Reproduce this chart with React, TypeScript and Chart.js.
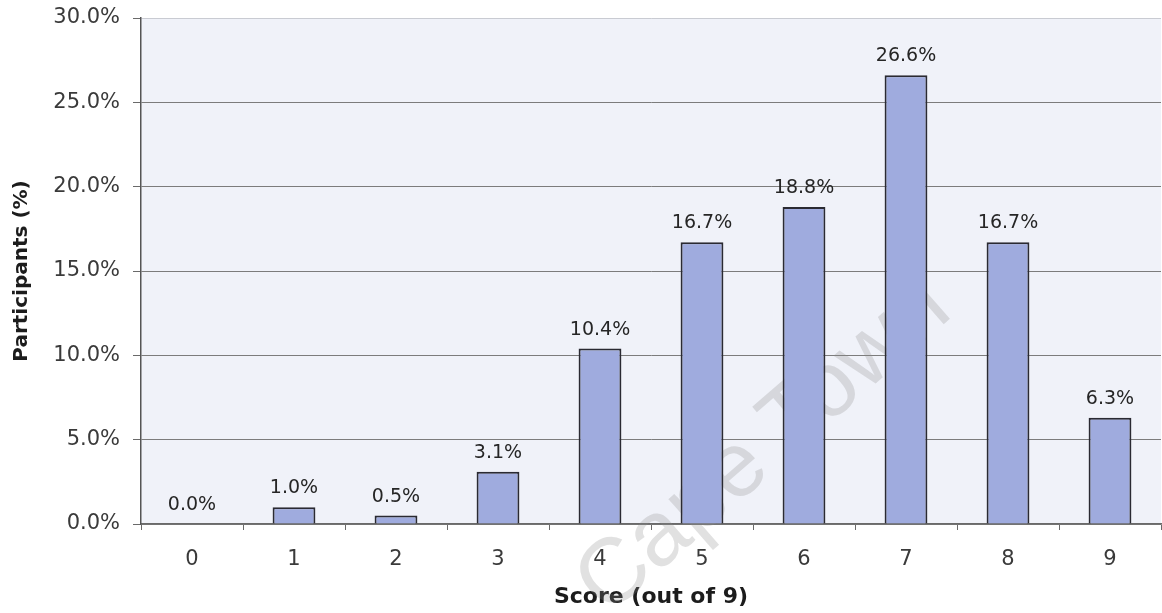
import React, { useEffect, useRef } from "react";
import { Chart, registerables } from "chart.js";

Chart.register(...registerables);

// Score categories and share of participants (%) at each score
const scores: string[] = ["0", "1", "2", "3", "4", "5", "6", "7", "8", "9"];
const participantsPct: number[] = [0.0, 1.0, 0.5, 3.1, 10.4, 16.7, 18.8, 26.6, 16.7, 6.3];

// Y axis range and step (percent)
const yMin = 0;
const yMax = 30;
const yStep = 5;

const xTitle = "Score (out of 9)";
const yTitle = "Participants (%)";
const watermarkText = "Cape Town";

const FONT = "'DejaVu Sans', 'Liberation Sans', Arial, sans-serif";

// Fills the plot area with a pale blue-grey background
const plotBackground = {
  id: "plotBackground",
  beforeDraw(chart: any) {
    const { ctx, chartArea } = chart;
    if (!chartArea) return;
    ctx.save();
    ctx.fillStyle = "#f0f2f9";
    ctx.fillRect(chartArea.left, chartArea.top, chartArea.right - chartArea.left, chartArea.bottom - chartArea.top);
    ctx.restore();
  },
};

// Faint diagonal watermark drawn under the bars
const watermark = {
  id: "watermark",
  beforeDatasetsDraw(chart: any) {
    const { ctx } = chart;
    ctx.save();
    ctx.translate(chart.width * 0.6575, chart.height * 0.729);
    ctx.rotate((-41 * Math.PI) / 180);
    ctx.font = "92px 'Liberation Sans', Arial, sans-serif";
    ctx.fillStyle = "rgba(140,140,140,0.26)";
    ctx.textAlign = "center";
    ctx.textBaseline = "middle";
    ctx.fillText(watermarkText, 0, 0);
    ctx.restore();
  },
};

// Value labels above each bar
const valueLabels = {
  id: "valueLabels",
  afterDatasetsDraw(chart: any) {
    const { ctx } = chart;
    const meta = chart.getDatasetMeta(0);
    const data = chart.data.datasets[0].data as number[];
    ctx.save();
    ctx.font = `19px ${FONT}`;
    ctx.fillStyle = "#262626";
    ctx.textAlign = "center";
    ctx.textBaseline = "middle";
    meta.data.forEach((bar: any, i: number) => {
      ctx.fillText(`${data[i].toFixed(1)}%`, bar.x, bar.y - 19);
    });
    ctx.restore();
  },
};

export default function App() {
  const canvasRef = useRef<HTMLCanvasElement | null>(null);

  useEffect(() => {
    document.body.style.margin = "0";
    document.body.style.background = "#ffffff";
    const canvas = canvasRef.current;
    if (!canvas) return;

    const chart = new Chart(canvas, {
      type: "bar",
      data: {
        labels: scores,
        datasets: [
          {
            label: yTitle,
            data: participantsPct,
            backgroundColor: "#9fabde",
            borderColor: "#2a2a32",
            borderWidth: 2,
            barPercentage: 0.42,
            categoryPercentage: 1.0,
          },
        ],
      },
      options: {
        responsive: false,
        animation: false,
        devicePixelRatio: 1,
        layout: { padding: { top: 18, right: 1, left: 0, bottom: 0 } },
        plugins: {
          legend: { display: false },
          tooltip: { enabled: false },
        },
        scales: {
          x: {
            offset: true,
            grid: {
              offset: true,
              drawOnChartArea: false,
              drawTicks: true,
              tickLength: 6,
              tickColor: "#6a6a6a",
              lineWidth: 1,
            },
            border: { display: true, color: "#6a6a6a", width: 1.5 },
            ticks: {
              color: "#3a3a3a",
              font: { family: FONT, size: 21 },
              padding: 17,
              maxRotation: 0,
            },
            title: {
              display: true,
              text: xTitle,
              color: "#1c1c1c",
              font: { family: FONT, size: 22, weight: "bold" },
              padding: { top: 0, bottom: 3 },
            },
            afterFit(scale: any) {
              scale.height = 89;
              scale.paddingLeft = 0;
              scale.paddingRight = 0;
            },
          },
          y: {
            min: yMin,
            max: yMax,
            ticks: {
              stepSize: yStep,
              color: "#3a3a3a",
              font: { family: FONT, size: 21 },
              padding: 13,
              callback: (v: any) => `${Number(v).toFixed(1)}%`,
            },
            grid: {
              color: (c: any) => (c.tick && c.tick.value === yMax ? "#c9cbd2" : "#7c7c7c"),
              lineWidth: 1,
              drawTicks: true,
              tickLength: 8,
              tickColor: "#6a6a6a",
            },
            border: { display: true, color: "#555555", width: 1.5 },
            title: {
              display: true,
              text: yTitle,
              color: "#1c1c1c",
              font: { family: FONT, size: 20, weight: "bold" },
              padding: { top: 10, bottom: 0 },
            },
            afterFit(scale: any) {
              scale.width = 141;
              scale.paddingTop = 0;
              scale.paddingBottom = 0;
            },
          },
        },
      },
      plugins: [plotBackground, watermark, valueLabels],
    });

    return () => chart.destroy();
  }, []);

  return (
    <div style={{ width: 1162, height: 613, position: "relative" }}>
      <canvas ref={canvasRef} width={1162} height={613} style={{ display: "block" }} />
    </div>
  );
}
